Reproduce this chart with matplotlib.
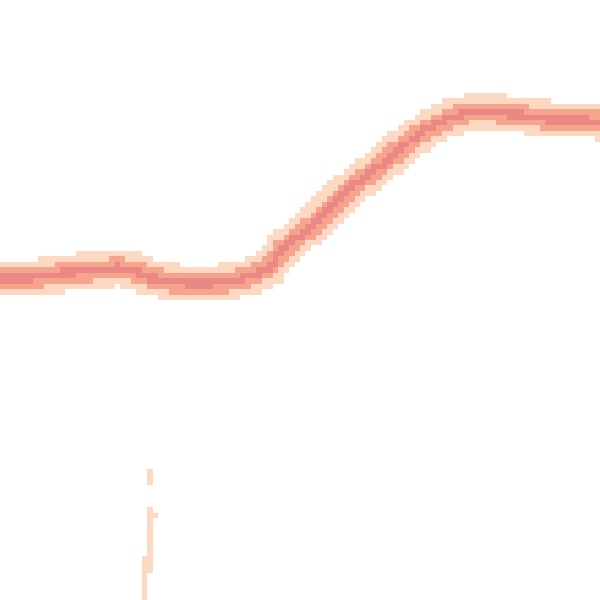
import numpy as np
import matplotlib
matplotlib.use('Agg')
import matplotlib.pyplot as plt

# main curve (x and y both on a 0-100 scale)
curve_x = [0, 6.7, 11.7, 16.7, 20, 22.5, 25, 29.2, 33.3, 37.5, 41.7, 45, 47.2,
           52.8, 58.3, 63.8, 66.7, 69.5, 72.2, 75, 77.8, 80.5, 86.2, 91.7, 97.2, 100]
curve_y = [53.5, 53.7, 54.5, 54.8, 55.3, 54.7, 53.7, 52.8, 52.7, 52.8, 53.8, 55.3, 58.3,
           62.8, 68.3, 72.5, 75.0, 77.2, 78.8, 80.2, 81.0, 81.3, 80.8, 80.0, 79.8, 79.7]

# faint trace near the bottom
trace1_x = [25.5, 25.5]
trace1_y = [21.7, 19.8]
trace2_x = [25.5, 24.7, 24.2]
trace2_y = [14.3, 6.7, 0]

peach = '#fdd9c4'
salmon = '#f6a48c'
core = '#ea8886'

# draw finely, then sample every 4th pixel so the result is blocky like the reference
cells = 110
sub = 4
small = plt.figure(figsize=(cells / 100, cells / 100), dpi=100 * sub)
ax_s = small.add_axes([0, 0, 1, 1])
ax_s.set_xlim(0, 100)
ax_s.set_ylim(0, 100)
ax_s.axis('off')
ax_s.plot(trace1_x, trace1_y, color=peach, lw=0.7, antialiased=False)
ax_s.plot(trace2_x, trace2_y, color=peach, lw=0.7, antialiased=False)
ax_s.plot(curve_x, curve_y, color=peach, lw=4.6, antialiased=False, solid_joinstyle='round')
ax_s.plot(curve_x, curve_y, color=salmon, lw=2.4, antialiased=False, solid_joinstyle='round')
ax_s.plot(curve_x, curve_y, color=core, lw=0.75, antialiased=False, solid_joinstyle='round')
small.canvas.draw()
img = np.asarray(small.canvas.buffer_rgba())[sub // 2::sub, sub // 2::sub]
plt.close(small)

fig = plt.figure(figsize=(6, 6), dpi=100)
ax = fig.add_axes([0, 0, 1, 1])
ax.imshow(img, interpolation='nearest', aspect='auto')
ax.axis('off')
fig.savefig('out.png', dpi=100, facecolor='white')
